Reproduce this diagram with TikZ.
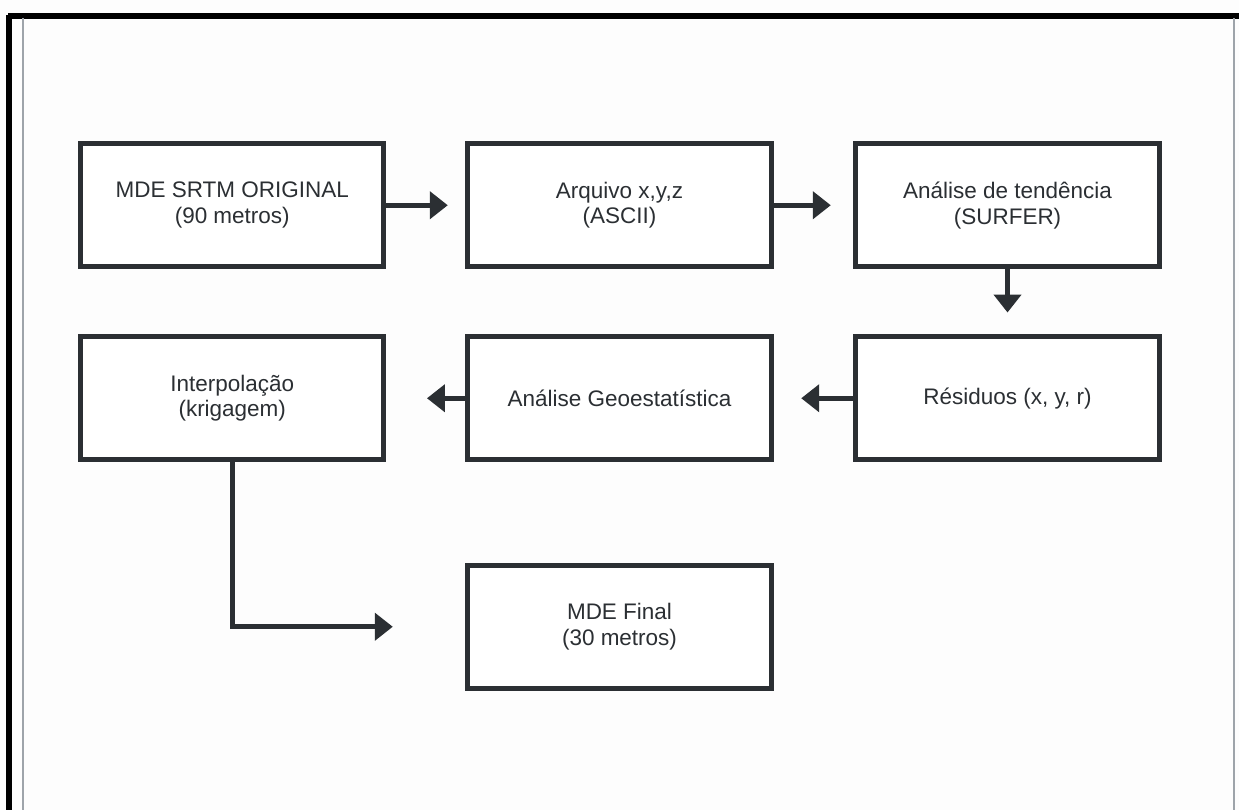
\documentclass[tikz,border=0pt]{standalone}
\usepackage{fontspec}
\setmainfont{Liberation Sans}
\usepackage{tikz}
\usetikzlibrary{arrows.meta,calc,positioning}
\definecolor{boxline}{HTML}{2B2F33}
\definecolor{pagebg}{HTML}{FDFDFD}
\definecolor{rulegray}{HTML}{9EA4AA}

\begin{document}
\begin{tikzpicture}[x=0.02cm,y=-0.02cm,
    etapa/.style={draw=boxline,line width=0.1cm,fill=white,
      minimum width=6.07cm,minimum height=2.47cm,inner sep=0pt,outer sep=0pt,
      align=center,text=boxline,font=\fontsize{12.8}{14.6}\selectfont},
    seta/.style={draw=boxline,line width=0.1cm,
      -{Triangle[length=0.36cm,width=0.54cm]},shorten >=0.45cm}]
    % page and frame
    \fill[pagebg] (0,0) rectangle (1239,810);
    \useasboundingbox (0,0) rectangle (1239,810);
    \draw[line width=3pt] (8,16) -- (1239,16);
    \draw[line width=3pt] (9,15) -- (9,810);
    \draw[rulegray,line width=0.6pt] (23,18) -- (23,810);
    \draw[rulegray,line width=0.8pt] (1234,18) -- (1234,810);

    % first row
    \node[etapa] (srtm) at (232.25,205.25) {MDE SRTM ORIGINAL\\(90 metros)};
    \node[etapa] (xyz) at (619.5,205.25) {Arquivo x,y,z\\(ASCII)};
    \node[etapa] (tend) at (1007.5,205.25) {Análise de tendência\\(SURFER)};

    % second row
    \node[etapa] (interp) at (232.25,398.25) {Interpolação\\(krigagem)};
    \node[etapa] (geoest) at (619.5,398.25) {Análise Geoestatística};
    \node[etapa] (resid) at (1007.5,398.25) {Résiduos (x, y, r)};

    % result
    \node[etapa] (final) at (619.5,626.75) {MDE Final\\(30 metros)};

    \draw[seta,shorten >=0.4cm] (srtm) -- (xyz);
    \draw[seta,shorten >=0.5cm] (xyz) -- (tend);
    \draw[seta,shorten >=0.48cm] (tend) -- (resid);
    \draw[seta,shorten >=0.6cm] (resid) -- (geoest);
    \draw[seta,shorten >=0.86cm] (geoest) -- (interp);
    \draw[seta,shorten >=1.5cm] (interp) |- (final);
  \end{tikzpicture}
\end{document}
